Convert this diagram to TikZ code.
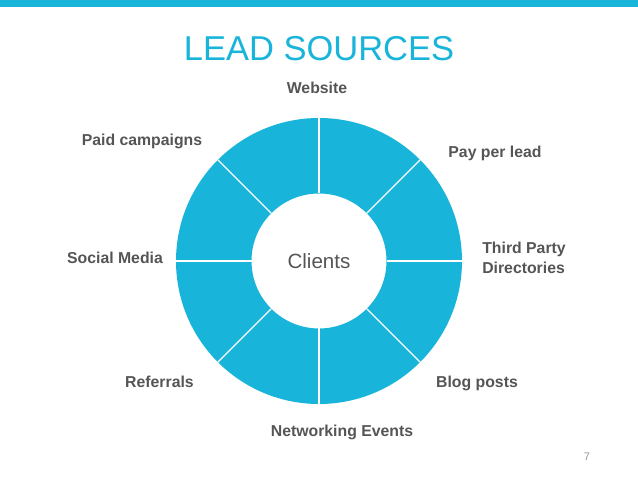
\documentclass[tikz,border=0pt]{standalone}
\usepackage{fontspec}
\setmainfont{Liberation Sans}
\usepackage{xcolor}
\usepackage{tikz}
\usetikzlibrary{positioning, calc}

\definecolor{leadblue}{HTML}{18B4DA}
\definecolor{leadgray}{HTML}{555555}

\begin{document}
\begin{tikzpicture}[
    x=1pt, y=1pt,
    title/.style={anchor=base, text=leadblue, font=\fontsize{34.5}{40}\selectfont, inner sep=0pt},
    src/.style={anchor=base, text=leadgray, font=\fontsize{15.8}{20}\selectfont\bfseries, inner sep=0pt, align=left},
    hub/.style={anchor=base, text=leadgray, font=\fontsize{20.6}{24}\selectfont, inner sep=0pt},
    divider/.style={white, line width=1.3pt}
  ]
  \useasboundingbox (0,0) rectangle (638,479);

  % top bar and title
  \fill[leadblue] (0,472) rectangle (638,479);
  \node[title] (title) at (319,418) {LEAD SOURCES};

  % ring
  \coordinate (c) at (319,218);
  \fill[leadblue, even odd rule] (c) circle (143pt) (c) circle (67.5pt);
  \foreach \a in {0,45,...,315}
    \draw[divider] ([shift={(\a:67.5pt)}]c) -- ([shift={(\a:143pt)}]c);
  \node[hub] (clients) at (319,210.6) {Clients};

  % sources round the ring
  \node[src] (web) at (317,385.3) {Website};
  \node[src] (ppl) at (495,321.3) {Pay per lead};
  \node[src] (dir) at (524,205.3) {Third Party\\Directories};
  \node[src] (blog) at (477,91.3) {Blog posts};
  \node[src] (events) at (342,42.3) {Networking Events};
  \node[src] (refs) at (159.5,91.3) {Referrals};
  \node[src] (social) at (115,215.3) {Social Media};
  \node[src] (paid) at (142,333.3) {Paid campaigns};

  % page number
  \node[anchor=base, text=gray!80, font=\fontsize{11}{12}\selectfont, inner sep=0pt] (page) at (587,18) {7};
\end{tikzpicture}
\end{document}
